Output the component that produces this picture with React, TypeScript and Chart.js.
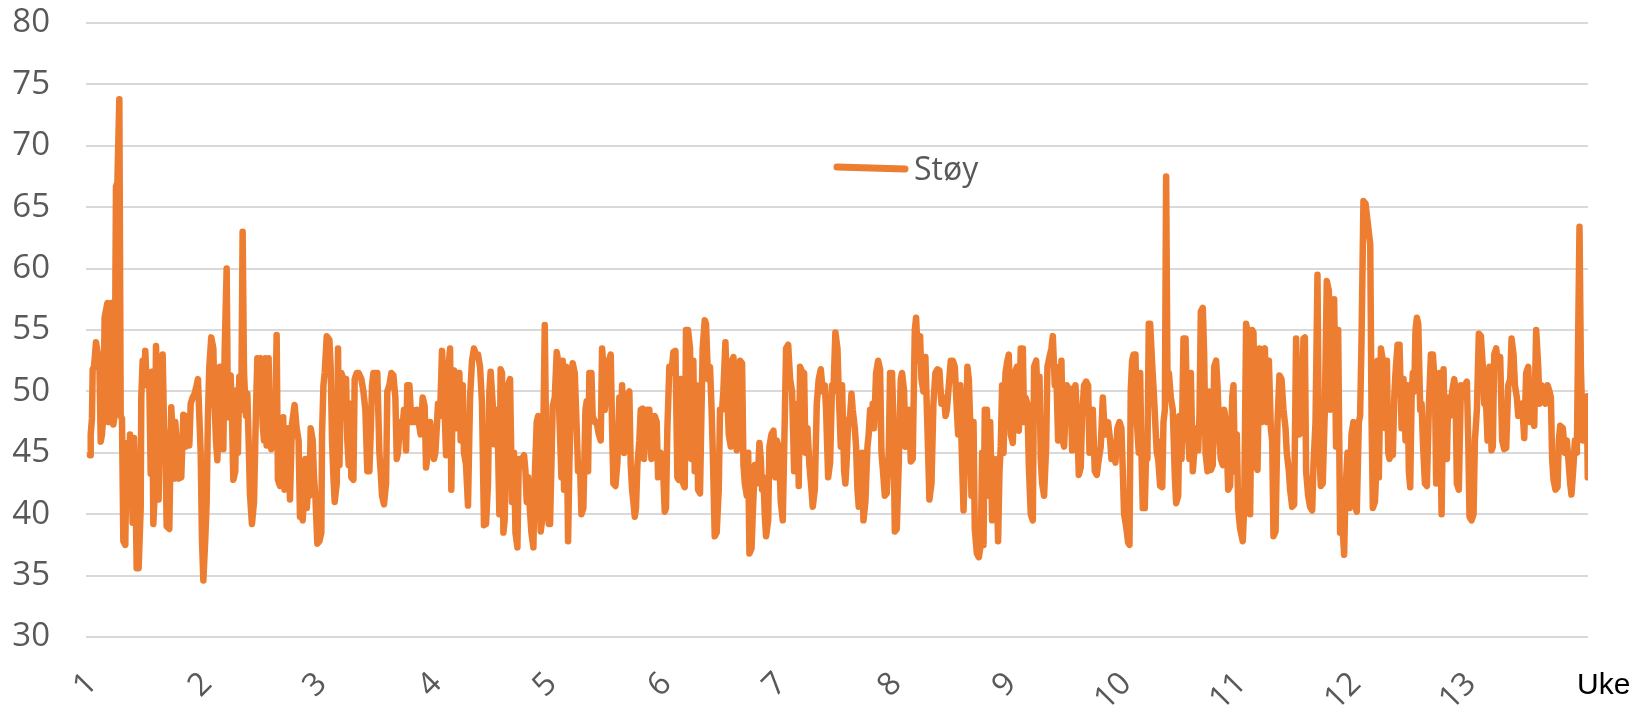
import { useEffect, useRef } from "react";
import { Chart, registerables } from "chart.js";

Chart.register(...registerables);

// Tick labels (uker)
const ukeEtiketter = [1, 2, 3, 4, 5, 6, 7, 8, 9, 10, 11, 12, 13];
const yMin = 30;
const yMax = 80;
const yStep = 5;
const xMin = 1;
const xMax = 14.07;
const serieNavn = "Støy";
const aksetittel = "Uke";

// Measurements: x = week (uke), y = noise level
const del1Uke = [1.035,1.041,1.052,1.058,1.070,1.087,1.104,1.116,1.128,1.139,1.151,1.162,1.186,1.197,1.209,1.220,1.238,1.249,1.261,1.273,1.290,1.302,1.313,1.325,1.342,1.354,1.365,1.383,1.394,1.406,1.418,1.429,1.441,1.458,1.476,1.481,1.493,1.505,1.516,1.528,1.539,1.551,1.563,1.574,1.586,1.597,1.609,1.621,1.632,1.644,1.655,1.667,1.679,1.690,1.702,1.725,1.742,1.754,1.766,1.777,1.795,1.806,1.829,1.847,1.864,1.882,1.899,1.911,1.928,1.945,1.963,1.974,1.986,1.998,2.009,2.021,2.038,2.050,2.061,2.073,2.090,2.108,2.119,2.131,2.143,2.154,2.166,2.183,2.195,2.206,2.224,2.235,2.247,2.259,2.270,2.282,2.299,2.311,2.322,2.334,2.351,2.363,2.375,2.392,2.404,2.415,2.427,2.444,2.462,2.479,2.491,2.508,2.520,2.537,2.549,2.560,2.572,2.589,2.601,2.612,2.630,2.647,2.659,2.670,2.688,2.705,2.716,2.728,2.740,2.757,2.775,2.792,2.815,2.833,2.850,2.862];
const del1Stoy = [44.8,46.5,47.8,51.8,52,54.0,53,52.5,45.9,46.5,48,56,57.2,47.5,50,57.2,47.3,48,66.7,67,73.8,48,47.8,37.8,37.5,45.8,41.2,46.5,44,39.3,46.2,43,35.6,35.6,40.5,49.5,52.5,50.5,53.3,50.5,51.5,50.5,43.3,51.6,39.2,41.5,53.7,50,41.2,49.1,48.5,53,47.1,46,39.0,38.8,48.7,46.5,42.9,47.5,45,42.9,43,48.1,45.5,48,45.6,49,49.5,49.8,50.5,51,48,45,38,34.6,38,41,48,52,54.4,53.5,49,46,44.4,48,52,50,45.3,53,60,47.9,50.5,51.3,48,42.8,43.5,50.1,45,51.2,48.5,63,51.5,48,49.8,46,41.6,39.2,41,48.5,52.7,52.5,52.7,47.3,46,52.7,45.6,52.7,46,45.3,46,48,54.6,42.8,42.3,45,47.9,42,44,47,41.2,47.3,48.9,47,46,39.8];

const del2Uke = [2.874,2.886,2.897,2.909,2.921,2.932,2.944,2.955,2.973,2.984,2.996,3.013,3.031,3.048,3.054,3.066,3.077,3.095,3.118,3.129,3.141,3.153,3.164,3.182,3.193,3.205,3.222,3.240,3.263,3.274,3.286,3.298,3.309,3.327,3.338,3.356,3.373,3.396,3.414,3.431,3.448,3.466,3.477,3.489,3.501,3.518,3.535,3.553,3.564,3.576,3.593,3.611,3.622,3.640,3.657,3.675,3.692,3.704,3.715,3.733,3.750,3.767,3.785,3.796,3.814,3.831,3.843,3.860,3.878,3.895,3.912,3.930,3.947,3.959,3.976,3.994,4.011,4.028,4.040,4.052,4.063,4.081,4.098,4.115,4.133,4.150,4.168,4.179,4.191,4.202,4.220,4.231,4.249,4.260,4.278,4.289,4.307,4.324,4.342,4.359,4.376,4.394,4.411,4.429,4.446,4.463,4.481,4.498,4.510,4.521,4.539,4.550,4.562,4.579,4.597,4.608,4.620,4.632,4.643,4.661,4.672,4.690,4.707,4.724];
const del2Stoy = [40,39.5,42,44.5,40.5,42,41.5,47,46,43,41.5,37.6,37.8,38.5,46.5,50.5,51.5,54.5,54.2,52,46,43,41,42.5,53.5,44,51.5,51,51,46,44,49,43,42.8,51,51.5,51.5,51,50,48.5,43.5,43.5,46.5,50.5,51.5,51.5,51.5,45,43.5,41.5,40.8,42.5,50,50.5,51.5,51.3,49.5,44.5,45,47.5,46.5,48.5,45.2,50.5,50.5,47.5,48.5,47.5,48.5,47.5,46.5,49.5,48.8,43.8,45,47.5,46,44.5,45,47,49,48,53.3,50,44.8,51.5,53.5,42,50,51.7,47,51.5,51.5,46,50.5,45,44,40.7,49.5,52.5,53.5,53,53,52,49,39.1,39.2,42.5,50,51.6,49,45.7,47,48.5,40,51.8,51.5,38.5,39.5,48,50.5,51,41,45];

const del3Uke = [4.737,4.754,4.766,4.783,4.800,4.812,4.824,4.835,4.847,4.858,4.876,4.893,4.905,4.922,4.934,4.945,4.957,4.969,4.980,4.992,5.003,5.015,5.027,5.038,5.050,5.061,5.079,5.096,5.108,5.119,5.137,5.148,5.160,5.177,5.195,5.206,5.224,5.235,5.253,5.270,5.282,5.299,5.311,5.328,5.346,5.357,5.369,5.380,5.398,5.409,5.427,5.444,5.462,5.479,5.491,5.502,5.514,5.531,5.549,5.566,5.578,5.589,5.607,5.624,5.641,5.653,5.665,5.682,5.699,5.717,5.728,5.740,5.752,5.763,5.775,5.786,5.798,5.815,5.827,5.844,5.856,5.868,5.885,5.902,5.920,5.931,5.949,5.966,5.978,5.989,6.001,6.018,6.036,6.047,6.059,6.076,6.094,6.111,6.129,6.146,6.158,6.175,6.192,6.210,6.221,6.239,6.256,6.268,6.285,6.297,6.314,6.326,6.343,6.355,6.366,6.384,6.395,6.413,6.430,6.442,6.453,6.471,6.488,6.506,6.517,6.535,6.546,6.564];
const del3Stoy = [38.5,37.3,44.5,44.5,44.6,44.8,43.5,41,43,41,38.5,37.3,43,47.5,48,42,38.6,39.5,47,55.4,47,43,39.2,39.2,44,48.8,49.5,53.2,52.5,48,43,52.5,42,52,37.8,44,51,52.3,51.5,47,43.5,44,40,40.5,48.5,49.2,43.5,51.5,51.5,48,47.5,47.5,46.5,46,53.5,52,48.5,50,52.5,53,47,42.5,42.3,44.2,49.5,45.5,50.5,45,46.5,49.8,50,44,42,41,39.8,40.5,44,46,48.5,48.6,44.5,47,48.5,48.5,44.5,46.8,48,47.5,43,43.5,45,44.5,40.2,40.5,47,52,51.5,53.2,53.3,43,42.8,51,42.6,42.2,55,55,53.5,44.5,52.5,43.5,50.5,42,41.7,48,53.5,55.8,55.5,51,52,49,45.5,38.2,38.5,42,48.5,48.5,50,54];

const del4Uke = [6.593,6.611,6.622,6.634,6.646,6.663,6.675,6.692,6.709,6.721,6.733,6.750,6.762,6.773,6.791,6.802,6.820,6.837,6.849,6.860,6.872,6.883,6.895,6.907,6.918,6.936,6.947,6.965,6.982,6.999,7.011,7.028,7.046,7.063,7.081,7.092,7.110,7.127,7.144,7.162,7.173,7.191,7.202,7.214,7.231,7.249,7.260,7.278,7.295,7.313,7.324,7.342,7.359,7.376,7.394,7.411,7.429,7.440,7.458,7.475,7.492,7.504,7.521,7.539,7.550,7.568,7.579,7.597,7.608,7.620,7.632,7.649,7.661,7.672,7.690,7.701,7.713,7.724,7.736,7.753,7.765,7.782,7.800,7.811,7.823,7.835,7.846,7.858,7.875,7.893,7.910,7.922,7.933,7.951,7.968,7.985,7.997,8.014,8.026,8.038,8.055,8.072,8.090,8.101,8.119,8.130,8.148,8.165,8.177,8.194,8.212,8.223,8.241,8.258,8.270,8.287,8.304,8.322,8.339,8.357,8.374,8.391,8.409,8.426,8.444];
const del4Stoy = [46.5,45.5,52.5,52.8,49,45.2,48.5,52.5,52.3,44,42.5,41.5,45,36.8,37.2,40,44,42.5,43.5,45.8,44.5,42,43,39.8,38.2,39.5,45.5,46.5,46.8,43,46,45.5,41,39.5,48,53.5,53.8,51,50,43.5,44.5,49,42.3,52,51.6,51.5,45,47,44,42,40.6,42,49,51,51.8,50,50.5,48.5,43,44.2,50.5,50,54.8,53.5,50,45.5,50.5,43.5,42.5,44.5,47.5,48,49.8,48.5,47,45.5,42,40.6,41.5,45,39.5,41,45.5,46.5,48.5,47,49,47,51.5,52.5,51.8,45,43.8,41.5,41.7,45,51.5,51.5,47.5,38.6,38.8,44,51,51.5,50,45.5,48,48.5,44.3,44.5,55,56,52.5,54.5,51,50,52.8,47,41.2,42.5,49,51.5,51.8,51.7,49];

const del5Uke = [8.467,8.479,8.491,8.508,8.525,8.543,8.560,8.578,8.589,8.607,8.618,8.636,8.653,8.670,8.682,8.694,8.705,8.723,8.734,8.752,8.769,8.786,8.798,8.810,8.821,8.839,8.856,8.868,8.885,8.897,8.908,8.926,8.937,8.949,8.960,8.972,8.984,9.001,9.018,9.030,9.047,9.065,9.082,9.100,9.117,9.134,9.152,9.163,9.175,9.192,9.204,9.221,9.239,9.250,9.268,9.285,9.297,9.308,9.320,9.337,9.355,9.366,9.384,9.401,9.413,9.430,9.442,9.459,9.471,9.488,9.500,9.511,9.523,9.535,9.552,9.569,9.581,9.593,9.610,9.627,9.639,9.656,9.668,9.685,9.703,9.720,9.732,9.749,9.761,9.778,9.796,9.813,9.830,9.848,9.865,9.877,9.894,9.912,9.923,9.941,9.958,9.975,9.993,10.010,10.022,10.033,10.051,10.068,10.080,10.091,10.103,10.115,10.132,10.144,10.161,10.173,10.184,10.196,10.213,10.225,10.236,10.248,10.260,10.277,10.294,10.312];
const del5Stoy = [49.5,48,48.5,50.5,52.5,52.5,52,48.5,46.5,50.5,46,40.3,46,52,51,47.5,41.5,47.5,38.8,36.8,36.5,37.5,45,37.5,48.5,48.5,41.5,47.5,39.5,44.5,44.5,42,37.8,43.5,45.5,50.5,45,51.5,52.5,53,46.5,45.8,51.5,52,46.8,53.5,53.5,47.5,49.5,49,44,40,39.5,52,52.5,48.5,51.2,44.5,42.5,41.5,45.5,52,52.8,53.5,54.5,50.5,52,46,47,52.5,46,45.5,48,50.5,50,50.2,45.2,50,50.5,47,43.2,43.8,48,50.5,50.8,50.5,45,45.5,48.5,43.5,43.2,44.5,45.5,49.5,46.5,46.5,47.5,46,44.5,45,44.2,47,47.5,47,43.5,40,39,37.7,37.5,50,52.5,53,53,47.5,45,51.5,45,40.5,40.5,45,44.5,55.5,55.5,52.3,49.5,46];

const del6Uke = [10.318,10.330,10.347,10.365,10.376,10.388,10.399,10.411,10.423,10.440,10.457,10.475,10.486,10.504,10.515,10.533,10.550,10.568,10.585,10.602,10.614,10.631,10.643,10.660,10.678,10.689,10.701,10.718,10.730,10.742,10.759,10.776,10.788,10.805,10.817,10.834,10.846,10.863,10.875,10.892,10.904,10.921,10.939,10.956,10.974,10.985,10.997,11.014,11.026,11.043,11.066,11.078,11.095,11.113,11.130,11.148,11.159,11.177,11.194,11.211,11.229,11.240,11.258,11.275,11.293,11.310,11.322,11.333,11.351,11.368,11.385,11.403,11.420,11.438,11.449,11.467,11.478,11.496,11.513,11.530,11.548,11.559,11.577,11.594,11.606,11.617,11.635,11.652,11.670,11.681,11.699,11.716,11.728,11.745,11.762,11.780,11.797,11.815,11.826,11.844,11.861,11.878,11.896,11.913,11.931,11.948,11.960,11.977,11.994,12.012,12.029,12.047,12.058,12.076,12.087,12.099,12.116,12.134];
const del6Stoy = [45,44.5,42.3,42.2,47.5,48.5,67.5,50.5,51.5,49.5,48.5,43,40.9,41.5,48,44.5,54.3,54.3,47,44.5,51.5,43.5,45,47,45.2,48,56.5,56.8,53,45,43.5,50,43.6,44,52,52.5,50.5,46,44.5,44,48.5,47.5,42,42.3,49.5,50.5,43.5,46.5,40.5,38.8,37.8,40.5,55.5,54.5,40,55,54.8,44,43.6,53.5,47.5,53.3,53.5,47.5,52.5,47,46,38.2,38.6,47.5,51.3,51,48.5,47,45,43.5,42,40.6,40.8,54.3,47.5,46.5,46.8,54.3,54.4,43.5,41.5,40.6,40.3,44,47.5,59.5,46,42.3,42.5,48.5,59,58.2,48.5,49,57.5,45.5,55,38.5,39.5,36.7,42,45,40.5,46.5,47.5,40.5,40.2,47.5,48,54,65.5,65.3];

const del7Uke = [12.175,12.187,12.198,12.216,12.227,12.239,12.250,12.268,12.285,12.297,12.308,12.320,12.332,12.343,12.355,12.372,12.384,12.395,12.413,12.430,12.448,12.465,12.482,12.500,12.511,12.523,12.535,12.546,12.558,12.569,12.581,12.593,12.610,12.622,12.633,12.651,12.668,12.686,12.703,12.720,12.738,12.749,12.761,12.778,12.796,12.813,12.825,12.842,12.854,12.871,12.888,12.906,12.917,12.929,12.946,12.964,12.981,12.999,13.016,13.028,13.039,13.057,13.074,13.086,13.103,13.120,13.138,13.155,13.167,13.184,13.196,13.213,13.231,13.242,13.254,13.271,13.288,13.306,13.323,13.341,13.358,13.376,13.393,13.405,13.422,13.434,13.451,13.463,13.480,13.497,13.515,13.532,13.550,13.567,13.584,13.602,13.619,13.637,13.648,13.666,13.683,13.700,13.718,13.735,13.747,13.758,13.770,13.787,13.805,13.816,13.828,13.851,13.868,13.886,13.903,13.915,13.926,13.944,13.956,13.973,13.985,13.996,14.008,14.025,14.043,14.060,14.068];
const del7Stoy = [62,47.5,40.5,41,43.5,52.5,43,53.5,52.5,48.5,47,52.5,45,44.5,45.5,44.8,49.5,51.5,53.8,53.8,47,51,46,50.5,43.5,42.2,49.5,51.5,50,55,56,55.5,48.5,49,46,42.5,42.3,49,53,53,50.5,42.5,44,51.5,40,51.8,45.5,44.5,49.5,48,50,51,50,42.5,42,50.5,49.5,50.5,50.8,46,39.8,39.5,40,46,48.5,54.7,54.5,52,49,48.8,46,52,45.2,45.5,53,53.5,52,52.8,46,45.3,45.4,50.5,51,54.3,53,50.5,49.5,48,48.5,49,46.2,51.5,52,47.5,48.5,47.2,55,52,49,50.5,50.3,49,50.5,50,49.5,44.5,42.8,42,42.2,46,47.2,47,45,46,44,42.5,41.6,44,46,45,55,63.4,52,46,49.5,49.6,43];

const deler: [number[], number[]][] = [
  [del1Uke, del1Stoy],
  [del2Uke, del2Stoy],
  [del3Uke, del3Stoy],
  [del4Uke, del4Stoy],
  [del5Uke, del5Stoy],
  [del6Uke, del6Stoy],
  [del7Uke, del7Stoy],
];

const ORANGE = "#ED7D31";
const GRAY_TEXT = "#595959";
const GRID = "#D9D9D9";
const FONT = '"Open Sans", "Noto Sans", sans-serif';

const ekstraTekst = {
  id: "ekstraTekst",
  afterDraw(chart: any) {
    const ctx = chart.ctx as CanvasRenderingContext2D;
    const ds = chart.data.datasets[0];
    ctx.save();
    // legend inside plot
    ctx.strokeStyle = ds.borderColor;
    ctx.lineWidth = 7;
    ctx.lineCap = "round";
    ctx.beginPath();
    ctx.moveTo(829, 159);
    ctx.lineTo(897, 161);
    ctx.stroke();
    ctx.fillStyle = GRAY_TEXT;
    ctx.font = `32px ${FONT}`;
    ctx.textAlign = "left";
    ctx.textBaseline = "alphabetic";
    ctx.fillText(ds.label, 906, 172);
    // axis title
    ctx.fillStyle = "#000000";
    ctx.font = '30px "Liberation Sans", Arial, sans-serif';
    ctx.fillText(aksetittel, 1569, 686);
    ctx.restore();
  },
};

export default function App() {
  const ref = useRef<HTMLCanvasElement | null>(null);

  useEffect(() => {
    if (!ref.current) return;
    const punkter = deler.flatMap(([u, s]) => u.map((x, i) => ({ x, y: s[i] })));
    const chart = new Chart(ref.current, {
      type: "line",
      data: {
        datasets: [
          {
            label: serieNavn,
            data: punkter,
            borderColor: ORANGE,
            backgroundColor: ORANGE,
            borderWidth: 6.5,
            pointRadius: 0,
            tension: 0,
            borderJoinStyle: "round",
            borderCapStyle: "round",
            fill: false,
          },
        ],
      },
      options: {
        responsive: false,
        animation: false,
        devicePixelRatio: 1,
        layout: { padding: { top: 15, right: 50, bottom: 0, left: 0 } },
        plugins: { legend: { display: false }, tooltip: { enabled: false } },
        scales: {
          x: {
            type: "linear",
            min: xMin,
            max: xMax,
            afterBuildTicks: (axis: any) => {
              axis.ticks = ukeEtiketter.map((v) => ({ value: v }));
            },
            afterFit: (axis: any) => {
              axis.height = 69;
              axis.paddingLeft = 0;
              axis.paddingRight = 0;
            },
            grid: { display: false },
            border: { display: false },
            ticks: {
              autoSkip: false,
              minRotation: 45,
              maxRotation: 45,
              padding: 20,
              labelOffset: 6,
              color: GRAY_TEXT,
              font: { family: FONT, size: 32 },
              callback: (v: any) => String(v),
            },
          },
          y: {
            min: yMin,
            max: yMax,
            afterFit: (axis: any) => {
              axis.width = 78;
              axis.paddingTop = 0;
              axis.paddingBottom = 0;
            },
            grid: { color: GRID, lineWidth: 2, drawTicks: false },
            border: { display: false },
            ticks: {
              stepSize: yStep,
              padding: 36,
              color: GRAY_TEXT,
              font: { family: FONT, size: 33 },
            },
          },
        },
      },
      plugins: [ekstraTekst],
    });
    return () => chart.destroy();
  }, []);

  return (
    <div style={{ width: 1630, height: 698 }}>
      <canvas ref={ref} width={1630} height={698} style={{ display: "block" }} />
    </div>
  );
}
